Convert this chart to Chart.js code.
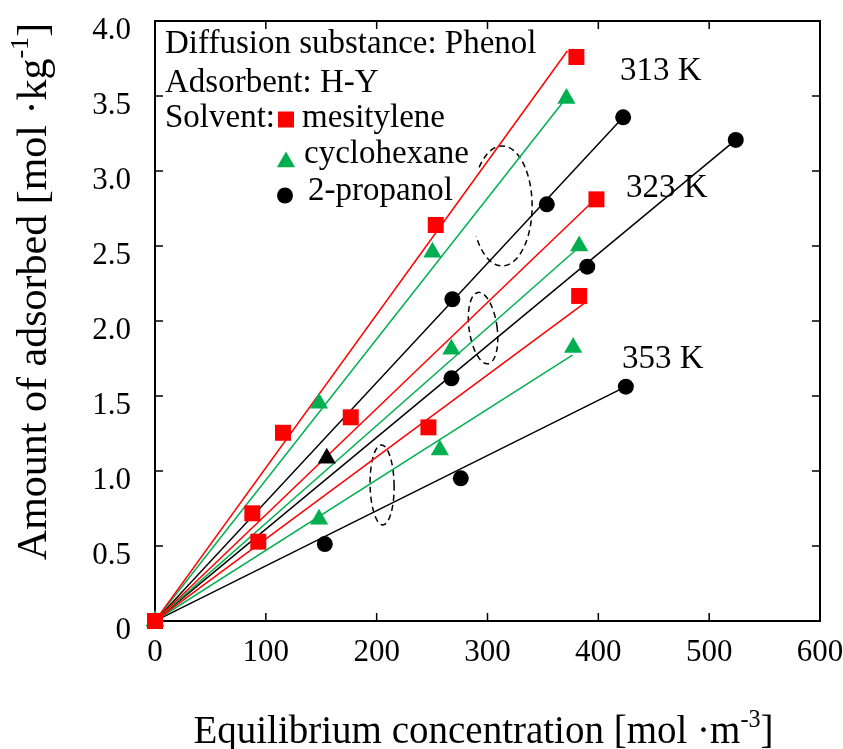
<!DOCTYPE html>
<html>
<head>
<meta charset="utf-8">
<script src="https://cdn.jsdelivr.net/npm/chart.js@4.4.1/dist/chart.umd.min.js"></script>
<style>
  html, body { margin: 0; padding: 0; background: #fff; }
  canvas { display: block; }
</style>
</head>
<body>
<canvas id="isoChart" width="843" height="749"></canvas>
<script>
// phenol on H-Y: [equilibrium concentration, amount adsorbed]
const mes313 = [[0, 0], [115.5, 1.255], [253.3, 2.64], [380.2, 3.76]];
const mes323 = [[0, 0], [87.8, 0.718], [176.6, 1.358], [398.3, 2.811]];
const mes353 = [[0, 0], [93.2, 0.529], [246.7, 1.291], [382.7, 2.167]];
const cyc313 = [[0, 0], [148, 1.451], [250.3, 2.458], [371.2, 3.484]];
const cyc323 = [[0, 0], [267.4, 1.811], [382.7, 2.5]];
const cyc353 = [[0, 0], [148, 0.678], [257, 1.14], [377.3, 1.824]];
const pro313 = [[0, 0], [268.3, 2.145], [353.5, 2.778], [422.4, 3.358]];
const pro323 = [[0, 0], [267.5, 1.618], [390, 2.362], [524, 3.207]];
const pro353 = [[0, 0], [153.2, 0.513], [275.9, 0.951], [424.8, 1.562]];
const extraPoint = [[155, 1.085]];

// fitted lines run from the origin to these ends (313, 323, 353 K)
const fitMes = [[372, 3.80], [391.7, 2.773], [387.2, 2.118]];
const fitCyc = [[371, 3.487], [379.7, 2.473], [376.6, 1.773]];
const fitPro = [[422.4, 3.358], [524, 3.207], [424.8, 1.562]];

const tempLabels = ['313 K', '323 K', '353 K'];
const solventNames = ['mesitylene', 'cyclohexane', '2-propanol'];

const RED = '#ff0000';
const GREEN = '#00b050';
const BLACK = '#000000';
const SERIF = '"Liberation Serif", "Times New Roman", serif';

const SQ_R = 11.3, TRI_R = 10.5, DOT_R = 8;

const pts = arr => arr.map(p => ({ x: p[0], y: p[1] }));

function markerSet(data, color, style, radius) {
  return {
    data: pts(data),
    showLine: false,
    clip: false,
    pointStyle: style,
    pointRadius: radius,
    pointHoverRadius: radius,
    backgroundColor: color,
    borderColor: color,
    borderWidth: 0
  };
}

function fitSet(end, color) {
  return {
    data: pts([[0, 0], end]),
    showLine: true,
    borderColor: color,
    borderWidth: 1.5,
    pointRadius: 0,
    fill: false
  };
}

// first dataset is painted last, so markers go first
const datasets = [
  markerSet(mes313, RED, 'rect', SQ_R),
  markerSet(mes323, RED, 'rect', SQ_R),
  markerSet(mes353, RED, 'rect', SQ_R),
  markerSet(cyc313, GREEN, 'triangle', TRI_R),
  markerSet(cyc323, GREEN, 'triangle', TRI_R),
  markerSet(cyc353, GREEN, 'triangle', TRI_R),
  markerSet(extraPoint, BLACK, 'triangle', TRI_R),
  markerSet(pro313, BLACK, 'circle', DOT_R),
  markerSet(pro323, BLACK, 'circle', DOT_R),
  markerSet(pro353, BLACK, 'circle', DOT_R)
];
fitMes.forEach(e => datasets.push(fitSet(e, RED)));
fitCyc.forEach(e => datasets.push(fitSet(e, GREEN)));
fitPro.forEach(e => datasets.push(fitSet(e, BLACK)));

// text with superscript pieces, centred on (x, y) baseline
function drawRich(ctx, parts, x, y, size) {
  const widths = parts.map(p => {
    ctx.font = (p.sup ? size * 0.62 : size) + 'px ' + SERIF;
    return ctx.measureText(p.t).width;
  });
  let cx = x - widths.reduce((a, b) => a + b, 0) / 2;
  ctx.textAlign = 'left';
  ctx.textBaseline = 'alphabetic';
  parts.forEach((p, i) => {
    ctx.font = (p.sup ? size * 0.62 : size) + 'px ' + SERIF;
    ctx.fillText(p.t, cx, p.sup ? y - size * 0.42 : y);
    cx += widths[i];
  });
}

// legend symbols, same shapes as the plotted points
function keySquare(ctx, x, y) {
  const s = SQ_R * Math.SQRT1_2;
  ctx.fillStyle = RED;
  ctx.fillRect(x - s, y - s, 2 * s, 2 * s);
}
function keyTriangle(ctx, x, y) {
  ctx.fillStyle = GREEN;
  ctx.beginPath();
  ctx.moveTo(x, y - TRI_R);
  ctx.lineTo(x + TRI_R * Math.sqrt(3) / 2, y + TRI_R / 2);
  ctx.lineTo(x - TRI_R * Math.sqrt(3) / 2, y + TRI_R / 2);
  ctx.closePath();
  ctx.fill();
}
function keyDot(ctx, x, y) {
  ctx.fillStyle = BLACK;
  ctx.beginPath();
  ctx.arc(x, y, DOT_R, 0, Math.PI * 2);
  ctx.fill();
}

const decor = {
  id: 'decor',
  beforeDatasetsDraw(chart) {
    const { ctx, chartArea: a, scales: { x, y } } = chart;
    ctx.save();
    // frame with inward ticks on every side
    ctx.strokeStyle = '#000';
    ctx.lineWidth = 2;
    ctx.strokeRect(a.left, a.top, a.right - a.left, a.bottom - a.top);
    ctx.lineWidth = 1.5;
    ctx.beginPath();
    x.ticks.forEach(t => {
      const px = x.getPixelForValue(t.value);
      ctx.moveTo(px, a.bottom); ctx.lineTo(px, a.bottom - 8);
      ctx.moveTo(px, a.top); ctx.lineTo(px, a.top + 8);
    });
    y.ticks.forEach(t => {
      const py = y.getPixelForValue(t.value);
      ctx.moveTo(a.left, py); ctx.lineTo(a.left + 8, py);
      ctx.moveTo(a.right, py); ctx.lineTo(a.right - 8, py);
    });
    ctx.stroke();

    // dashed rings grouping the three solvents at each temperature
    ctx.lineWidth = 1.5;
    ctx.setLineDash([6, 4]);
    ctx.beginPath();
    ctx.ellipse(x.getPixelForValue(313.2), y.getPixelForValue(2.767), 30, 60, 0,
      220 * Math.PI / 180, 150 * Math.PI / 180);
    ctx.stroke();
    ctx.beginPath();
    ctx.ellipse(x.getPixelForValue(296), y.getPixelForValue(1.953), 14, 36, -8 * Math.PI / 180, 0, Math.PI * 2);
    ctx.stroke();
    ctx.beginPath();
    ctx.ellipse(x.getPixelForValue(204.9), y.getPixelForValue(0.907), 12, 40, -1 * Math.PI / 180, 0, Math.PI * 2);
    ctx.stroke();
    ctx.restore();
  },
  afterDraw(chart) {
    const { ctx } = chart;
    ctx.save();

    // info block
    ctx.fillStyle = '#000';
    ctx.font = '33px ' + SERIF;
    ctx.textAlign = 'left';
    ctx.textBaseline = 'alphabetic';
    ctx.fillText('Diffusion substance: Phenol', 165, 53);
    ctx.fillText('Adsorbent: H-Y', 165, 92);
    ctx.fillText('Solvent:', 165, 127);
    ctx.fillText(solventNames[0], 302, 127);
    ctx.fillText(solventNames[1], 304, 163);
    ctx.fillText(solventNames[2], 308, 200);
    keySquare(ctx, 286, 119.5);
    keyTriangle(ctx, 286, 162);
    keyDot(ctx, 285, 195.5);

    // temperature labels
    ctx.fillStyle = '#000';
    ctx.font = '33px ' + SERIF;
    ctx.fillText(tempLabels[0], 620, 80);
    ctx.fillText(tempLabels[1], 626, 197);
    ctx.fillText(tempLabels[2], 622, 368);

    // axis titles
    drawRich(ctx, [
      { t: 'Equilibrium concentration [mol \u00b7m' },
      { t: '-3', sup: true },
      { t: ']' }
    ], 483.5, 743, 39);
    ctx.translate(46, 291.5);
    ctx.rotate(-Math.PI / 2);
    drawRich(ctx, [
      { t: 'Amount of adsorbed [mol \u00b7kg' },
      { t: '-1', sup: true },
      { t: ']' }
    ], 0, 0, 42);
    ctx.restore();
  }
};

const tickFont = { family: SERIF, size: 31 };

new Chart(document.getElementById('isoChart'), {
  type: 'scatter',
  data: { datasets },
  plugins: [decor],
  options: {
    responsive: false,
    animation: false,
    layout: { padding: { top: 21, right: 23, left: 0, bottom: 0 } },
    plugins: { legend: { display: false }, tooltip: { enabled: false } },
    scales: {
      x: {
        type: 'linear',
        min: 0,
        max: 600,
        grid: { display: false, drawTicks: false },
        border: { display: false },
        ticks: { stepSize: 100, font: tickFont, color: '#000', padding: 13, maxRotation: 0 },
        afterFit(scale) { scale.height = 128; scale.paddingLeft = 0; scale.paddingRight = 0; }
      },
      y: {
        type: 'linear',
        min: 0,
        max: 4,
        grid: { display: false, drawTicks: false },
        border: { display: false },
        ticks: {
          stepSize: 0.5,
          font: tickFont,
          color: '#000',
          padding: 24,
          labelOffset: 10,
          callback: v => (v === 0 ? '0' : v.toFixed(1))
        },
        afterFit(scale) { scale.width = 155; scale.paddingTop = 0; scale.paddingBottom = 0; }
      }
    }
  }
});
</script>
</body>
</html>
